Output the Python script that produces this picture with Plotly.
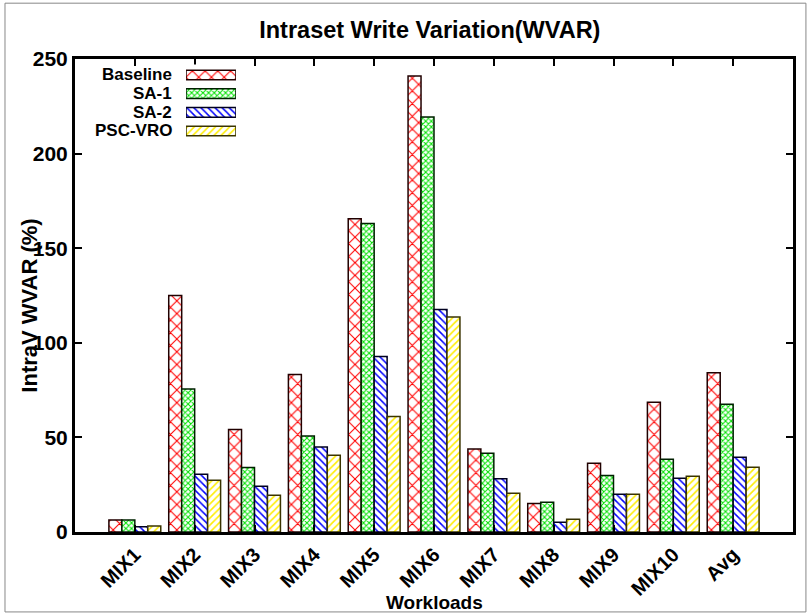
import plotly.graph_objects as go

# Workloads on the x axis
workloads = ["MIX1", "MIX2", "MIX3", "MIX4", "MIX5", "MIX6",
             "MIX7", "MIX8", "MIX9", "MIX10", "Avg"]

# Intra-set write variation (%) per scheme
baseline = [6.4, 125.0, 54.2, 83.3, 165.6, 241.0, 43.9, 15.0, 36.3, 68.6, 84.2]
sa1      = [6.4, 75.6, 34.1, 50.7, 163.0, 219.3, 41.6, 15.7, 29.8, 38.5, 67.5]
sa2      = [2.8, 30.5, 24.2, 44.9, 92.7, 117.6, 28.2, 5.1, 19.9, 28.4, 39.5]
pscvro   = [3.2, 27.4, 19.4, 40.6, 61.1, 113.7, 20.5, 6.7, 19.9, 29.5, 34.2]

series_names = ["Baseline", "SA-1", "SA-2", "PSC-VRO"]
series_values = [baseline, sa1, sa2, pscvro]

y_ticks = [0, 50, 100, 150, 200, 250]

# fill patterns: (shape, colour, size, solidity, outline)
styles = [
    ("x", "#ff0000", 9, 0.22, "#200000"),
    ("x", "#00e000", 4, 0.45, "#002000"),
    ("\\", "#0000ff", 5, 0.30, "#000020"),
    ("/", "#ffee00", 5, 0.32, "#3a3400"),
]

FONT = "Liberation Sans, Arial, sans-serif"

fig = go.Figure()
x_pos = list(range(len(workloads)))
for name, vals, (shape, col, size, sol, edge) in zip(series_names, series_values, styles):
    fig.add_trace(go.Bar(
        x=x_pos, y=vals, name=name, showlegend=False,
        marker=dict(
            color="white",
            line=dict(color=edge, width=1.5),
            pattern=dict(shape=shape, fgcolor=col, bgcolor="white",
                         fgopacity=1, size=size, solidity=sol),
        ),
        hoverinfo="skip",
    ))

# key drawn as small patterned boxes with right-aligned labels
fig.add_trace(go.Bar(
    x=[1, 1, 1, 1], y=series_names, orientation="h",
    xaxis="x2", yaxis="y2", width=0.52, showlegend=False, hoverinfo="skip",
    marker=dict(
        color="white",
        line=dict(color=[s[4] for s in styles], width=1.5),
        pattern=dict(shape=[s[0] for s in styles],
                     fgcolor=[s[1] for s in styles],
                     bgcolor="white", fgopacity=1,
                     size=[s[2] for s in styles],
                     solidity=[s[3] for s in styles]),
    ),
))
annotations = []
for name in series_names:
    annotations.append(dict(
        x=0.1365, xref="paper", y=name, yref="y2",
        text=f"<b>{name}</b>", showarrow=False, xanchor="right",
        borderpad=0,
        font=dict(family=FONT, size=17, color="black"),
    ))

annotations.append(dict(
    x=-0.063, xref="paper", y=0.478, yref="paper",
    text="<b>IntraV WVAR (%)</b>", textangle=-90, showarrow=False,
    xanchor="center", yanchor="middle",
    font=dict(family=FONT, size=22, color="black"),
))
annotations.append(dict(
    x=0.5, xref="paper", y=-0.148, yref="paper",
    text="<b>Workloads</b>", showarrow=False,
    xanchor="center", yanchor="middle",
    font=dict(family=FONT, size=19, color="black"),
))

fig.update_layout(
    width=811, height=616,
    margin=dict(l=75, r=18, t=59, b=84),
    paper_bgcolor="white", plot_bgcolor="white",
    barmode="group", bargap=0.133, bargroupgap=0,
    title=dict(text="<b>Intraset Write Variation(WVAR)</b>",
               x=0.53, xanchor="center", y=0.951, yanchor="middle",
               font=dict(family=FONT, size=23.5, color="black")),
    xaxis=dict(
        range=[-1, 11], tickmode="array", tickvals=x_pos, ticktext=[f"<b>{w}</b>" for w in workloads],
        tickangle=-45, ticks="inside", ticklen=7, tickwidth=1.5, tickcolor="black",
        showline=True, linecolor="black", linewidth=3, mirror="ticks",
        showgrid=False, zeroline=False,
        tickfont=dict(family=FONT, size=20, color="black"),
    ),
    yaxis=dict(
        range=[0, 250], tickmode="array", tickvals=y_ticks,
        ticktext=[f"<b>{t}</b>" for t in y_ticks],
        ticks="inside", ticklen=7, tickwidth=1.5, tickcolor="black",
        showline=True, linecolor="black", linewidth=3, mirror="ticks",
        showgrid=False, zeroline=False,
        tickfont=dict(family=FONT, size=21, color="black"),
    ),
    xaxis2=dict(domain=[0.1546, 0.2242], anchor="y2", range=[0, 1],
                visible=False, fixedrange=True),
    yaxis2=dict(domain=[0.8256, 0.9884], anchor="x2", type="category",
                categoryorder="array", categoryarray=series_names,
                autorange="reversed", visible=False, fixedrange=True),
    annotations=annotations,
    shapes=[dict(type="rect", xref="paper", yref="paper",
                 x0=-0.0975, x1=1.018, y0=-0.169, y1=1.118,
                 line=dict(color="#888888", width=1), layer="below")],
)

fig.write_html("out.html")
